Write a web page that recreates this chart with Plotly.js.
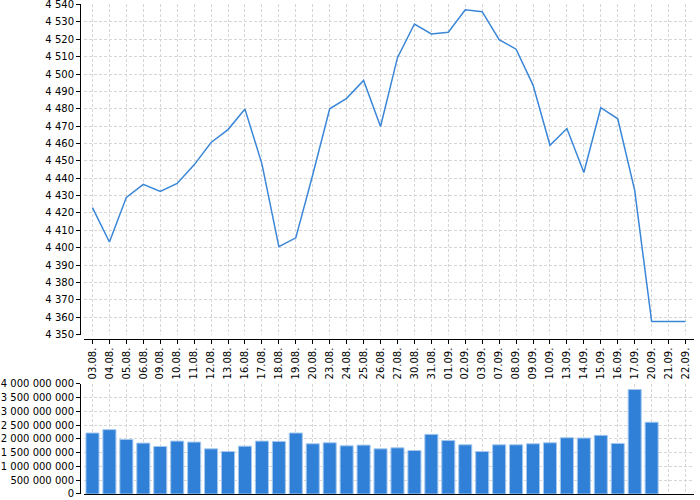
<!DOCTYPE html>
<html>
<head>
<meta charset="utf-8">
<script src="https://cdn.plot.ly/plotly-3.0.1.min.js"></script>
<style>html,body{margin:0;padding:0;background:#fff}#chart{width:700px;height:500px}</style>
</head>
<body>
<div id="chart"></div>
<script>
var dates = ["03.08.","04.08.","05.08.","06.08.","09.08.","10.08.","11.08.","12.08.","13.08.","16.08.","17.08.","18.08.","19.08.","20.08.","23.08.","24.08.","25.08.","26.08.","27.08.","30.08.","31.08.","01.09.","02.09.","03.09.","07.09.","08.09.","09.09.","10.09.","13.09.","14.09.","15.09.","16.09.","17.09.","20.09.","21.09.","22.09."];
var closeValues = [4423.1,4403.3,4429,4436.5,4432.4,4437,4447.7,4460.6,4468,4479.8,4448.3,4400.6,4405.7,4442,4480,4486,4496.3,4469.8,4509.4,4528.8,4523.1,4524,4537,4535.9,4519.8,4514.3,4493.6,4459,4468.6,4443.3,4480.6,4474.2,4433,4357.5,4357.5,4357.5];
var volumes = [2214e6,2336e6,1982e6,1847e6,1725e6,1920e6,1884e6,1639e6,1541e6,1737e6,1920e6,1908e6,2214e6,1823e6,1859e6,1749e6,1774e6,1639e6,1676e6,1578e6,2165e6,1945e6,1786e6,1541e6,1786e6,1786e6,1823e6,1859e6,2043e6,2031e6,2128e6,1835e6,3792e6,2606e6,null,null];

var axisFont = {family: "DejaVu Sans", size: 10, color: "#000"};
var gridCol = "#d6d6d6";
var gridDash = "3px,2px";
var xdom = [4/614, 1];

var traces = [
  {type: "scatter", mode: "lines", x: dates, y: closeValues, xaxis: "x", yaxis: "y",
   line: {color: "#3a86d8", width: 1.5}, hoverinfo: "x+y"},
  {type: "bar", x: dates, y: volumes, xaxis: "x2", yaxis: "y2",
   marker: {color: "#2f80d6", line: {color: "#a6c8ef", width: 1}}}
];

var layout = {
  width: 700, height: 500,
  margin: {l: 80, r: 6, t: 4, b: 0},
  paper_bgcolor: "#fff", plot_bgcolor: "#fff",
  separators: ", ",
  showlegend: false,
  bargap: 0.23,
  font: axisFont,
  xaxis: {type: "category", domain: xdom, anchor: "free", position: 0.3253,
    categoryorder: "array", categoryarray: dates, range: [-0.5, 35.5],
    tickangle: -90, ticks: "outside", ticklen: 4, tickcolor: "#000",
    showline: true, linecolor: "#000", linewidth: 1,
    showgrid: true, gridcolor: gridCol, griddash: gridDash, gridwidth: 1,
    tickfont: axisFont, fixedrange: true},
  yaxis: {domain: [0.3333, 1], anchor: "free", position: 0,
    range: [4349.95, 4540.3], dtick: 10, tick0: 4350, tickformat: ",d",
    ticklabeloverflow: "allow",
    ticks: "outside", ticklen: 4, tickcolor: "#000",
    showline: true, linecolor: "#000", linewidth: 1,
    showgrid: true, gridcolor: gridCol, griddash: gridDash, gridwidth: 1,
    zeroline: false, tickfont: axisFont, fixedrange: true},
  xaxis2: {type: "category", domain: xdom, anchor: "free", position: 0.0121,
    categoryorder: "array", categoryarray: dates, range: [-0.5, 35.5],
    showticklabels: false, ticks: "",
    showline: true, linecolor: "#000", linewidth: 1,
    showgrid: true, gridcolor: gridCol, griddash: gridDash, gridwidth: 1,
    fixedrange: true},
  yaxis2: {domain: [0.0121, 0.2343], anchor: "free", position: 0,
    range: [0, 4.0001e9], dtick: 5e8, tick0: 0, tickformat: ",d",
    ticklabeloverflow: "allow",
    ticks: "outside", ticklen: 4, tickcolor: "#000",
    showline: true, linecolor: "#000", linewidth: 1,
    showgrid: true, gridcolor: gridCol, griddash: gridDash, gridwidth: 1,
    zeroline: false, tickfont: axisFont, fixedrange: true}
};

Plotly.newPlot("chart", traces, layout, {displayModeBar: false, staticPlot: true});
</script>
</body>
</html>
